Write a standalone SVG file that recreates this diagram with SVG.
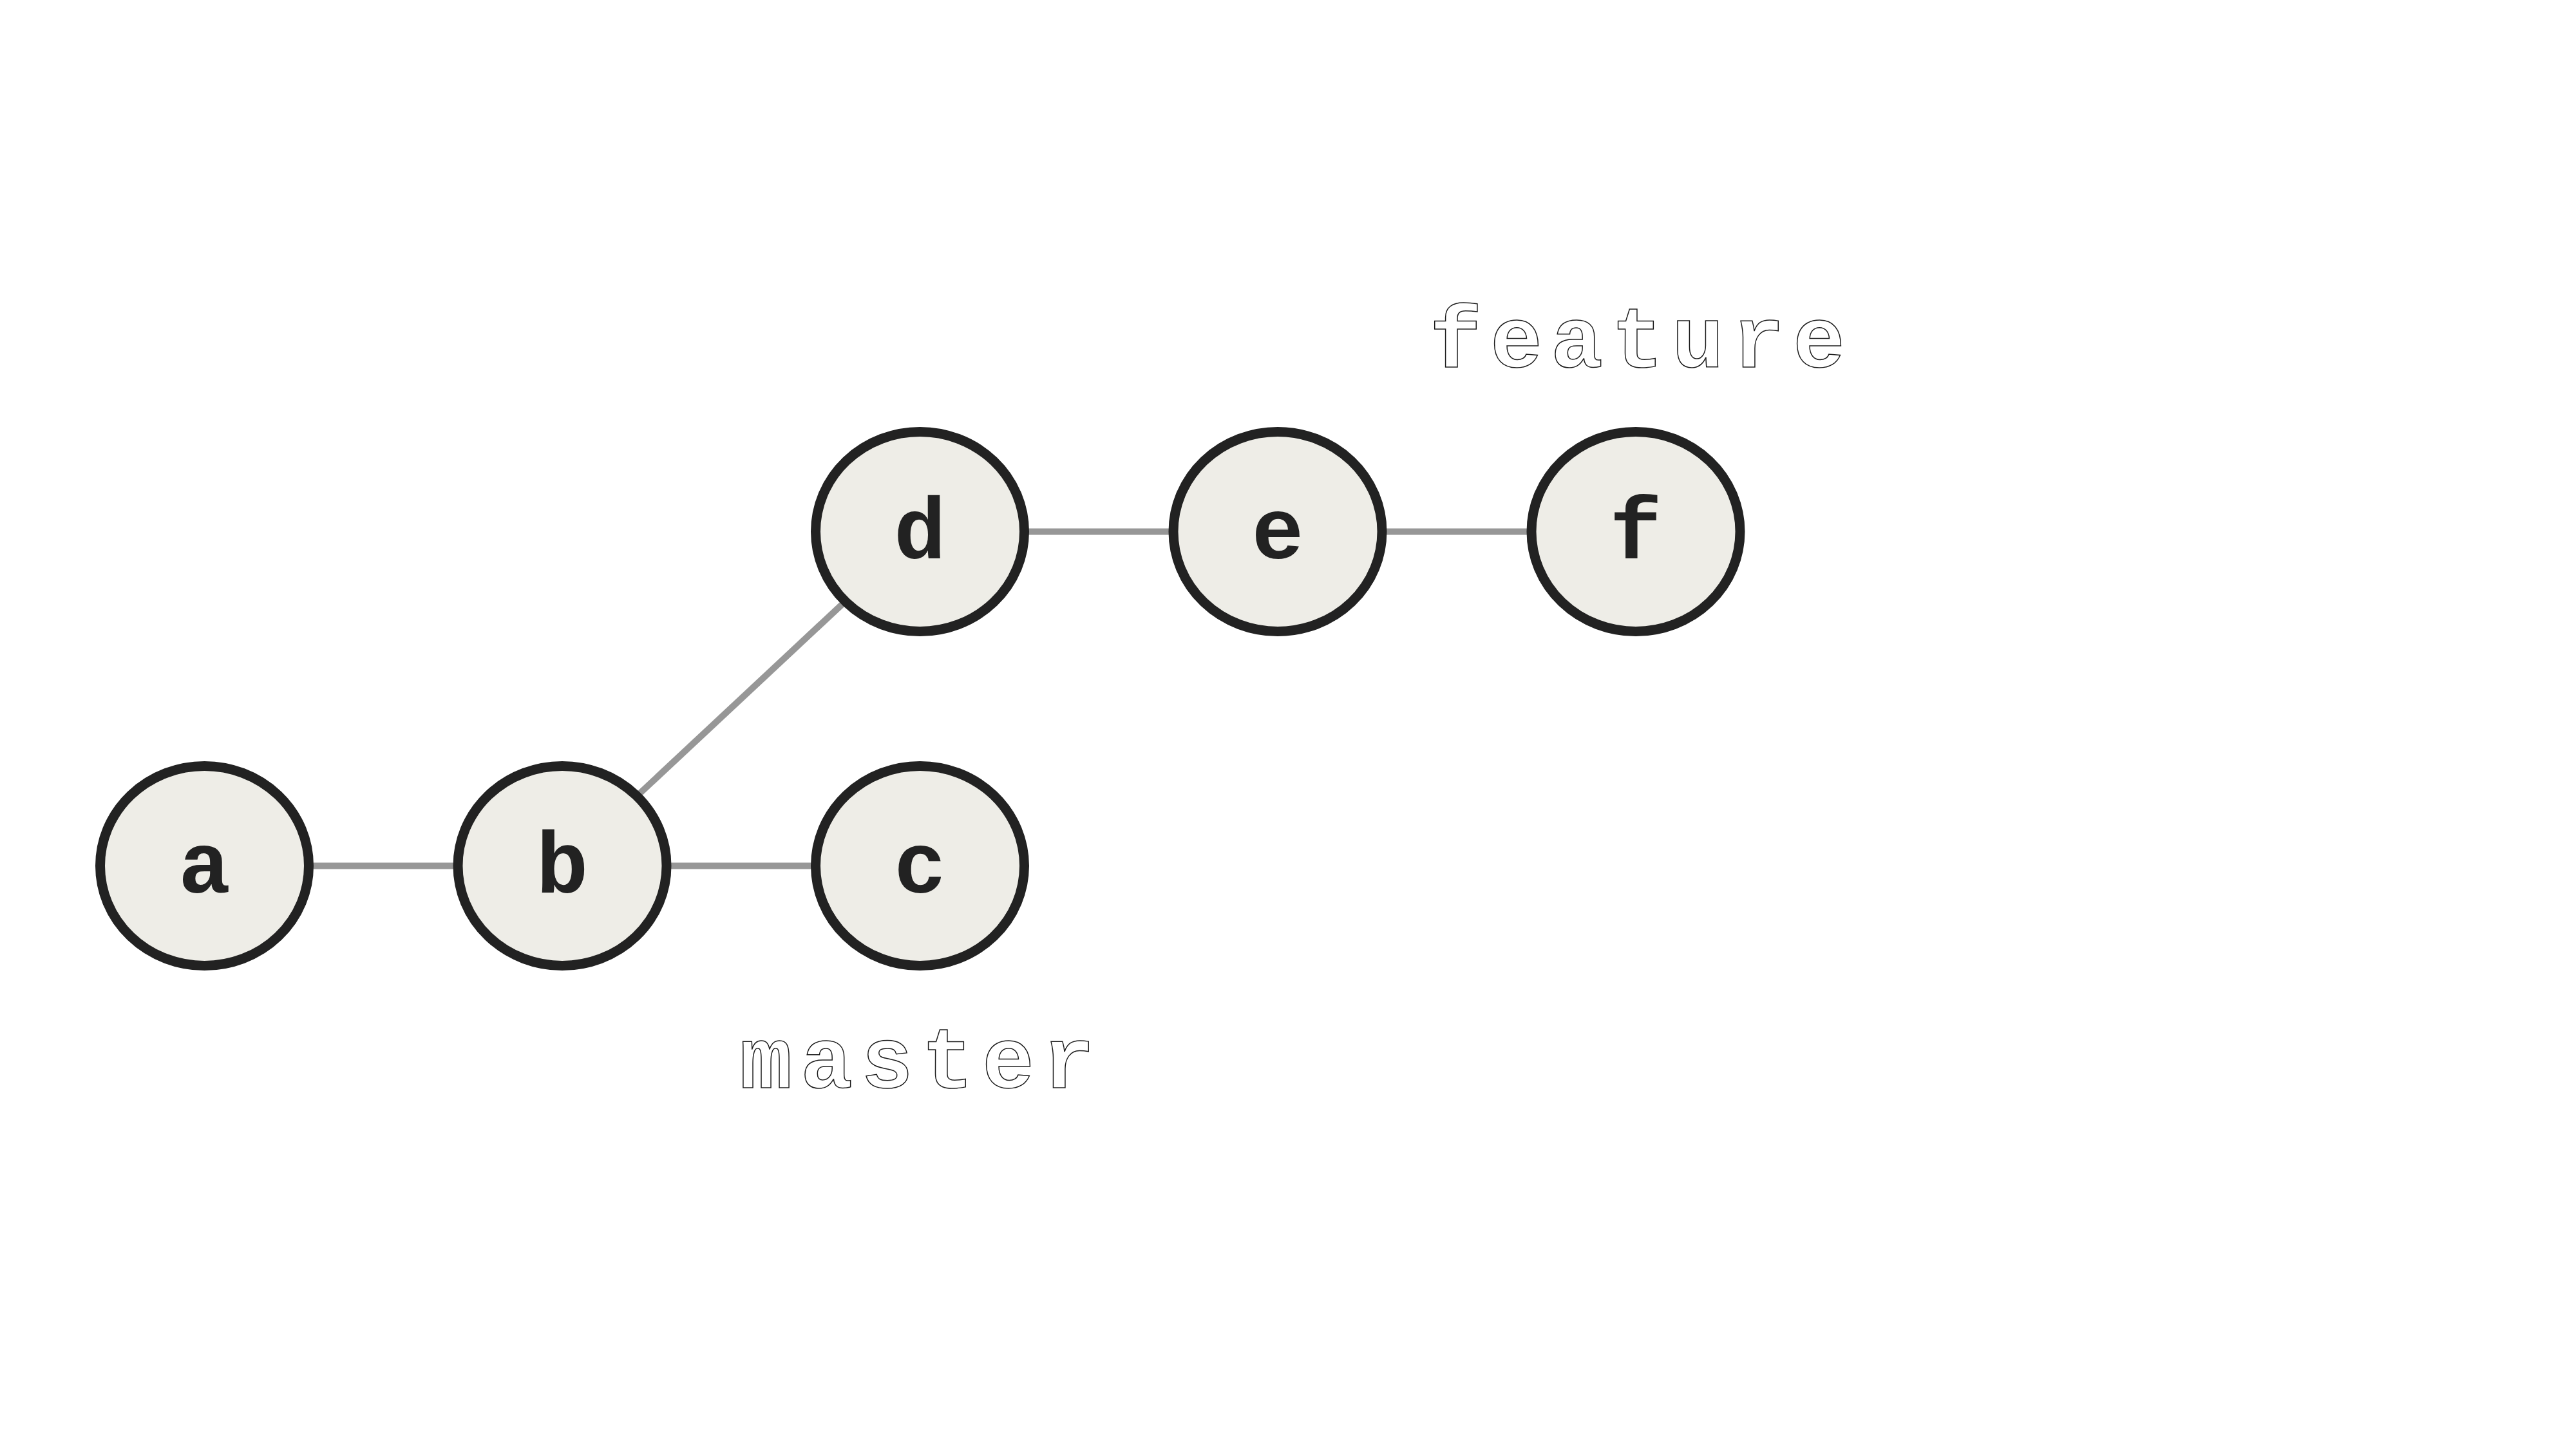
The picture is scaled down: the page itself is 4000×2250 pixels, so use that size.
<svg xmlns="http://www.w3.org/2000/svg" width="4000" height="2250" viewBox="0 0 4000 2250">
<style>
.node ellipse{fill:#eeede7;stroke:#222222;stroke-width:15}
.node text{font-family:'Courier New','Liberation Mono',Cousine,monospace;font-weight:700;font-size:135px;fill:#222222;text-anchor:middle}
.edge{stroke:#979797;stroke-width:10;fill:none}
.label{font-family:'Courier New','Liberation Mono',Cousine,monospace;font-weight:700;font-size:135px;text-anchor:middle;letter-spacing:13px;fill:#ffffff;stroke:#1a1a1a;stroke-width:1.5}
</style>
<rect width="4000" height="2250" fill="#ffffff"/>
<g id="connectors">
<line class="edge" x1="317.5" y1="1344.5" x2="873" y2="1344.5"/>
<line class="edge" x1="873" y1="1344.5" x2="1428.5" y2="1344.5"/>
<line class="edge" x1="873" y1="1344.5" x2="1428.5" y2="825.5"/>
<line class="edge" x1="1428.5" y1="825.5" x2="1984" y2="825.5"/>
<line class="edge" x1="1984" y1="825.5" x2="2540" y2="825.5"/>
</g>
<g id="node-a" class="node"><ellipse cx="317.5" cy="1344.5" rx="162" ry="155"/><text x="317.5" y="1385.5">a</text></g>
<g id="node-b" class="node"><ellipse cx="873" cy="1344.5" rx="162" ry="155"/><text x="873" y="1385.5">b</text></g>
<g id="node-c" class="node"><ellipse cx="1428.5" cy="1344.5" rx="162" ry="155"/><text x="1428.5" y="1385.5">c</text></g>
<g id="node-d" class="node"><ellipse cx="1428.5" cy="825.5" rx="162" ry="155"/><text x="1428.5" y="866.5">d</text></g>
<g id="node-e" class="node"><ellipse cx="1984" cy="825.5" rx="162" ry="155"/><text x="1984" y="866.5">e</text></g>
<g id="node-f" class="node"><ellipse cx="2540" cy="825.5" rx="162" ry="155"/><text x="2540" y="866.5">f</text></g>
<g id="label-feature"><text class="label" x="2549" y="570">feature</text></g>
<g id="label-master"><text class="label" x="1431" y="1689">master</text></g>
</svg>
